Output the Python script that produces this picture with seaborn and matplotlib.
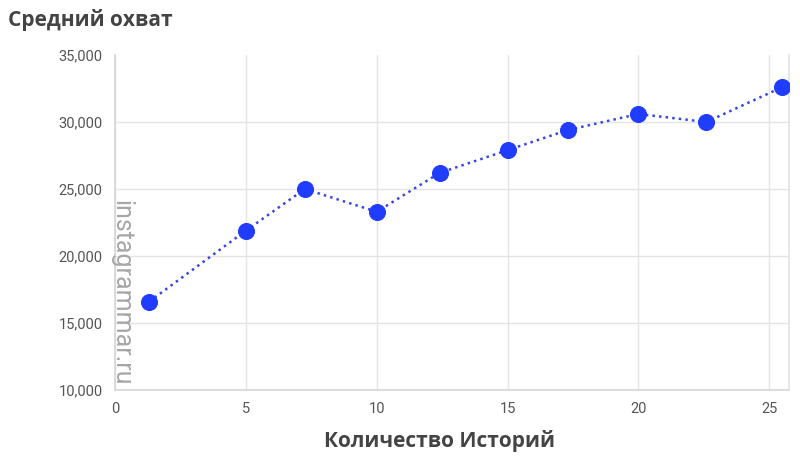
import numpy as np
import pandas as pd
import matplotlib
matplotlib.use("Agg")
import matplotlib.pyplot as plt
import seaborn as sns

# datos
historias = [1.3, 5, 7.25, 10, 12.4, 15, 17.3, 20, 22.6, 25.5]
alcance = [16600, 21900, 25000, 23300, 26200, 27900, 29400, 30600, 30000, 32600]
y_ticks = [10000, 15000, 20000, 25000, 30000, 35000]
x_ticks = [0, 5, 10, 15, 20, 25]

df = pd.DataFrame({"historias": historias, "alcance": alcance})

sns.set_theme(style="white")
plt.rcParams['font.family'] = ['Roboto', 'DejaVu Sans']

fig = plt.figure(figsize=(8, 4.65), dpi=100)
ax = fig.add_axes([0.1440, 0.1613, 0.8420, 0.7204])

sns.lineplot(
    data=df, x="historias", y="alcance", ax=ax,
    color="#3347e6", linestyle=":", linewidth=1.8,
    marker="o", markersize=11.5, markerfacecolor="#1f3cff",
    markeredgecolor="#1f3cff", zorder=3
)

ax.set_xlim(0, 25.75)
ax.set_ylim(10000, 35000)
ax.set_xticks(x_ticks)
ax.set_yticks(y_ticks)
ax.set_yticklabels([f"{v:,}" for v in y_ticks])

ax.grid(True, color="#e4e4e4", linewidth=1)
# sin línea de rejilla en el tope (35,000)
ax.get_ygridlines()[-1].set_visible(False)
ax.spines["top"].set_visible(False)
ax.spines["right"].set_color("#e4e4e4")
ax.spines["left"].set_color("#d6d6d6")
ax.spines["bottom"].set_color("#d6d6d6")
ax.spines["left"].set_linewidth(1.2)
ax.spines["bottom"].set_linewidth(1.2)

ax.tick_params(axis="both", length=0, labelsize=10.5, labelcolor="#555555")
ax.tick_params(axis="y", pad=9)
ax.tick_params(axis="x", pad=9)
ax.set_xlabel("Количество Историй", fontsize=15, fontweight="bold",
              color="#444444", family=["Open Sans", "DejaVu Sans"], labelpad=8)
ax.xaxis.set_label_coords(0.482, -0.12)
ax.set_ylabel("")

fig.text(0.01, 0.957, "Средний охват", fontsize=15, fontweight="bold",
         color="#444444", family=["Open Sans", "DejaVu Sans"], va="center", ha="left")

# marca de agua
fig.text(0.152, 0.57, "instagrammar.ru", rotation=-90, fontsize=18,
         color="#a6a6a6", ha="center", va="top")

fig.savefig("out.png", dpi=100)
